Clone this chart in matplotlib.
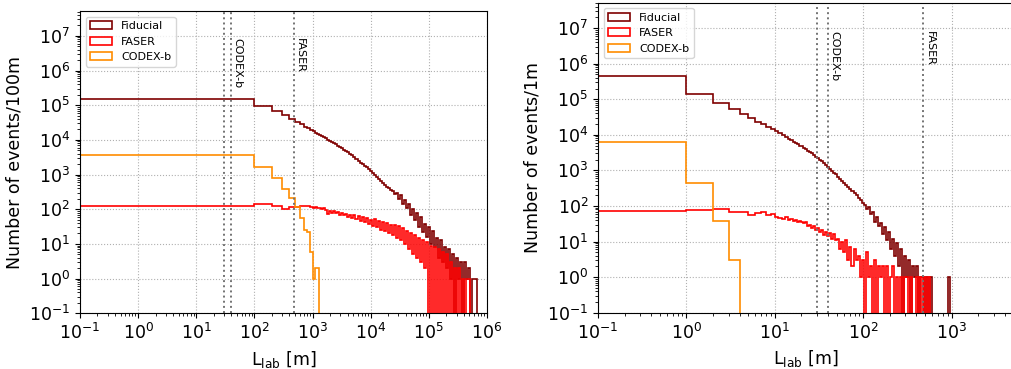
import numpy as np
import matplotlib
matplotlib.use("Agg")
import matplotlib.pyplot as plt

# ---------------- left panel (events per 100 m) ----------------
# first 13 bins are the native 100 m bins (0 .. 1300 m);
# beyond that the histogram is summarised on log-spaced bins.
fid_left_head = [1.51e5, 9.6e4, 6.8e4, 5.2e4, 4.0e4, 3.3e4, 2.8e4, 2.4e4, 2.2e4,
                 1.95e4, 1.75e4, 1.6e4, 1.5e4]
fid_left_tail = [
    1.41e4, 1.32e4, 1.23e4, 1.12e4, 1.02e4, 9.3e3, 8.7e3, 7.9e3, 7.4e3, 6.8e3,
    6.2e3, 5.7e3, 5.2e3, 4.8e3, 4.4e3, 4.0e3, 3.55e3, 3.2e3, 2.8e3, 2.5e3,
    2.2e3, 2.0e3, 1.8e3, 1.6e3, 1.4e3, 1.25e3, 1.12e3, 980, 870, 760,
    660, 590, 510, 450, 420, 370, 340, 270, 300, 200,
    250, 140, 190, 110, 145, 68, 105, 50, 78, 30,
    60, 22, 38, 16, 30, 10, 24, 8, 15, 4,
    13, 3, 8, 2, 7, 1, 5, 0, 4, 1,
    3, 0, 3, 1, 2, 0, 1, 1]

faser_left_head = [124, 139, 123, 104, 115, 117, 120, 124, 121, 118, 112, 116, 108]
faser_left_tail = [
    110, 104, 112, 96, 72, 88, 80, 90, 76, 84,
    70, 80, 66, 74, 60, 70, 56, 66, 52, 62,
    47, 58, 42, 55, 38, 50, 33, 52, 30, 46,
    26, 44, 24, 40, 20, 36, 18, 34, 15, 32,
    13, 28, 10, 24, 7, 20, 5, 18, 4, 15,
    3, 13, 2, 11, 0, 9, 0, 8, 0, 7,
    0, 6, 0, 5, 0, 3, 0, 2, 0, 2,
    0, 1, 0, 1, 1, 0, 0, 0]

codex_left = [3670, 1700, 810, 390, 207, 114, 55, 26, 22.6, 6, 1, 2, 2]

# ---------------- right panel (events per 1 m) ----------------
fid_right_head = [4.55e5, 1.44e5, 7.8e4, 5.2e4, 3.9e4, 2.95e4, 2.36e4, 2.0e4, 1.7e4,
                  1.47e4, 1.29e4, 1.12e4, 9.8e3, 8.7e3, 7.85e3, 7.1e3, 6.45e3,
                  5.9e3, 5.45e3, 5.0e3]
fid_right_tail = [
    4.8e3, 4.4e3, 4.0e3, 3.6e3, 3.3e3, 3.0e3, 2.7e3, 2.45e3, 2.2e3, 2.0e3,
    1.8e3, 1.6e3, 1.42e3, 1.27e3, 1.12e3, 990, 850, 770, 650, 590,
    500, 440, 390, 345, 300, 262, 226, 200, 168, 148,
    120, 110, 82, 95, 58, 66, 36, 48, 28, 34,
    16, 26, 11, 18, 6, 12, 4, 9, 2, 6,
    0, 4, 1, 3, 0, 2, 1, 2, 0, 1,
    1, 0, 1, 0, 1, 0, 0, 0, 0, 0,
    0, 0, 0, 1, 0]

faser_right_head = [74, 77, 81, 67, 69, 56, 63, 66, 55, 58, 48, 47, 44, 50, 40, 42,
                    38, 41, 36, 38]
faser_right_tail = [
    36, 33, 35, 28, 30, 24, 27, 21, 24, 18,
    21, 15, 19, 14, 17, 12, 16, 11, 12, 6,
    10, 5, 11, 3, 7, 2, 6, 3, 4, 1,
    3, 0, 5, 1, 2, 0, 3, 0, 2, 1,
    2, 0, 2, 0, 1, 2, 0, 1, 0, 1,
    0, 1, 1, 0, 1, 0, 0, 1, 0, 1,
    0, 1, 0, 1, 0, 0, 0, 0, 0, 0,
    0, 0, 0, 0, 0]

codex_right = [6500, 436, 37, 3]

series_labels = ["Fiducial", "FASER", "CODEX-b"]
series_colors = ["#7f0000", "#ff0000", "#ff8c00"]
codex_lines = [30, 40]
faser_line = 480

# bin edges
left_edges = np.concatenate([np.arange(0, 1400, 100.0),
                             np.geomspace(1300, 6.6e5, len(fid_left_tail) + 1)[1:]])
left_codex_edges = np.arange(0, 100.0 * (len(codex_left) + 1), 100.0)
right_edges = np.concatenate([np.arange(0, 21, 1.0),
                              np.geomspace(20, 1000, len(fid_right_tail) + 1)[1:]])
right_codex_edges = np.arange(0, len(codex_right) + 1, 1.0)

fig = plt.figure(figsize=(10.11, 3.69), dpi=100)
ax_l = fig.add_axes([0.0791, 0.151, 0.4026, 0.8192])
ax_r = fig.add_axes([0.5915, 0.1526, 0.4109, 0.8401])


def draw_panel(ax, edges, fid, faser, cedges, codex, xlim, ylabel):
    for vals, e, lab, col in [(fid, edges, series_labels[0], series_colors[0]),
                              (faser, edges, series_labels[1], series_colors[1]),
                              (codex, cedges, series_labels[2], series_colors[2])]:
        e = np.asarray(e)
        ax.hist(e[:-1], bins=e, weights=vals, histtype="step", color=col,
                lw=1.2, label=lab, log=True)
    ax.set_xscale("log")
    ax.set_yscale("log", nonpositive="clip")
    ax.set_xlim(*xlim)
    ax.set_ylim(0.1, 5.2e7)
    ax.grid(True, which="major", ls=":", color="#b0b0b0", lw=0.8)
    for xv in codex_lines + [faser_line]:
        ax.axvline(xv, ls=":", color="0.45", lw=1.4)
    ax.text(codex_lines[1] * 1.04, 8.5e6, "CODEX-b", rotation=-90, fontsize=8,
            ha="left", va="top")
    ax.text(faser_line * 1.04, 8.5e6, "FASER", rotation=-90, fontsize=8,
            ha="left", va="top")
    ax.set_xlabel(r"L$_{\mathrm{lab}}$ [m]", fontsize=12.5)
    ax.set_ylabel(ylabel, fontsize=12.5)
    ax.tick_params(axis="both", which="major", labelsize=12.5)
    ax.legend(loc="upper left", fontsize=8)


draw_panel(ax_l, left_edges, fid_left_head + fid_left_tail,
           faser_left_head + faser_left_tail, left_codex_edges, codex_left,
           (0.1, 1e6), "Number of events/100m")
draw_panel(ax_r, right_edges, fid_right_head + fid_right_tail,
           faser_right_head + faser_right_tail, right_codex_edges, codex_right,
           (0.1, 5000), "Number of events/1m")

fig.savefig("out.png", dpi=100)
